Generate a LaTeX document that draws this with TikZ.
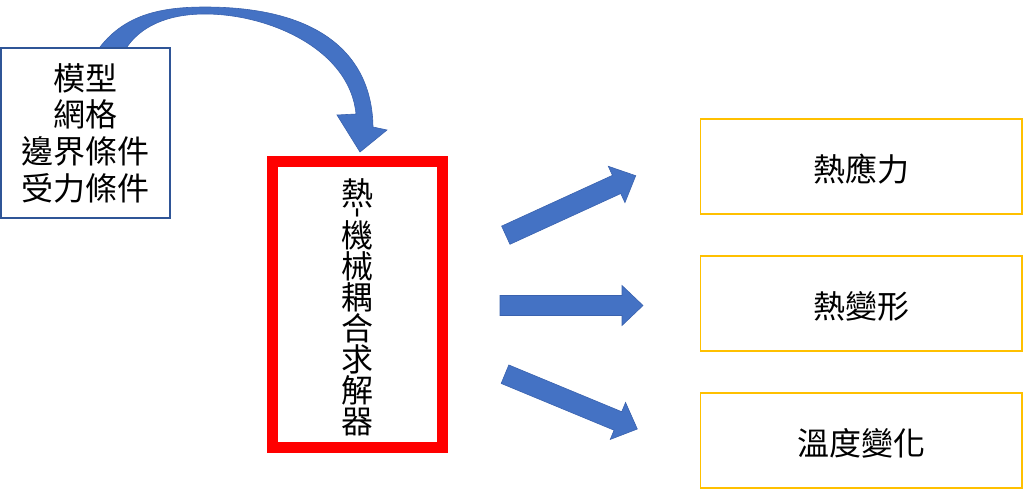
\documentclass[tikz,border=0pt]{standalone}
\usepackage{fontspec}
\usepackage{graphicx}
\usetikzlibrary{calc}
\newfontfamily\cjk{Noto Sans CJK TC}
\newcommand\tightlines{\lineskiplimit=-100pt\relax}
\definecolor{arrowblue}{HTML}{4472C4}
\definecolor{arrowedge}{HTML}{3A62AE}
\definecolor{inbox}{HTML}{2F5597}
\definecolor{outbox}{HTML}{FFC000}
\tikzset{
  blockarrow/.style={fill=arrowblue, draw=arrowedge, line width=0.6pt, line join=miter},
  inputbox/.style={draw=inbox, fill=white, line width=1.4pt},
  solverbox/.style={draw=red, line width=11pt},
  resultbox/.style={draw=outbox, line width=1.5pt, minimum width=321.5pt, minimum height=95pt, inner sep=0pt},
  cjktext/.style={inner sep=0pt, align=center, font={\cjk\fontsize{32}{36.7}\selectfont\tightlines}},
}
\begin{document}
\begin{tikzpicture}[x=1pt,y=-1pt]
\useasboundingbox (0,0) rectangle (1024,490);
% curved arrow
\filldraw[blockarrow] (100,52) -- (100,47) .. controls (125,15) and (160,7) .. (205,7)
  .. controls (320,7) and (372,55) .. (373,127) -- (387,130) -- (360,152) -- (337,115) -- (356,114)
  .. controls (350,50) and (270,14) .. (205,14) .. controls (165,14) and (140,28) .. (127,47) -- (127,52) -- cycle;
% input box
\draw[inputbox] (1,48) rectangle (170,218);
\node[cjktext, anchor=north] (inputs) at (85,63) {模型\\網格\\邊界條件\\受力條件};
% solver box
\draw[solverbox] (272.5,161.3) rectangle (442.2,447.2);
\node[cjktext, anchor=north, font={\cjk\fontsize{32}{31}\selectfont\tightlines}] (solver) at (357.5,178)
  {熱\\[-18pt]\makebox[0pt]{\kern7pt\rotatebox{90}{-}}\\[-2pt]機\\械\\耦\\合\\求\\解\\器};
% result boxes
\node[resultbox] (r1) at (861.25,166.5) {};
\node[resultbox] (r2) at (861.25,303.5) {};
\node[resultbox] (r3) at (861.25,440.5) {};
\node[cjktext] (t1) at ($(r1.center)+(0,2.5)$) {熱應力};
\node[cjktext] (t2) at ($(r2.center)+(0,2.5)$) {熱變形};
\node[cjktext] (t3) at ($(r3.center)+(0,2.5)$) {溫度變化};
% straight arrows: tail and tip coordinates
\coordinate (a1s) at (505.8,235.2); \coordinate (a1e) at (635.7,175.7);
\coordinate (a2s) at (500,305.5);   \coordinate (a2e) at (643,305.5);
\coordinate (a3s) at (505,374.2);   \coordinate (a3e) at (637.3,429);
\foreach \s/\e in {a1s/a1e, a2s/a2e, a3s/a3e}{
  \coordinate (h) at ($(\e)!21pt!(\s)$);
  \filldraw[blockarrow]
    ($(\s)!10pt!90:(\e)$) -- ($(h)!10pt!-90:(\s)$) -- ($(h)!20pt!-90:(\s)$) -- (\e)
    -- ($(h)!20pt!90:(\s)$) -- ($(h)!10pt!90:(\s)$) -- ($(\s)!10pt!-90:(\e)$) -- cycle;
}
\end{tikzpicture}
\end{document}
